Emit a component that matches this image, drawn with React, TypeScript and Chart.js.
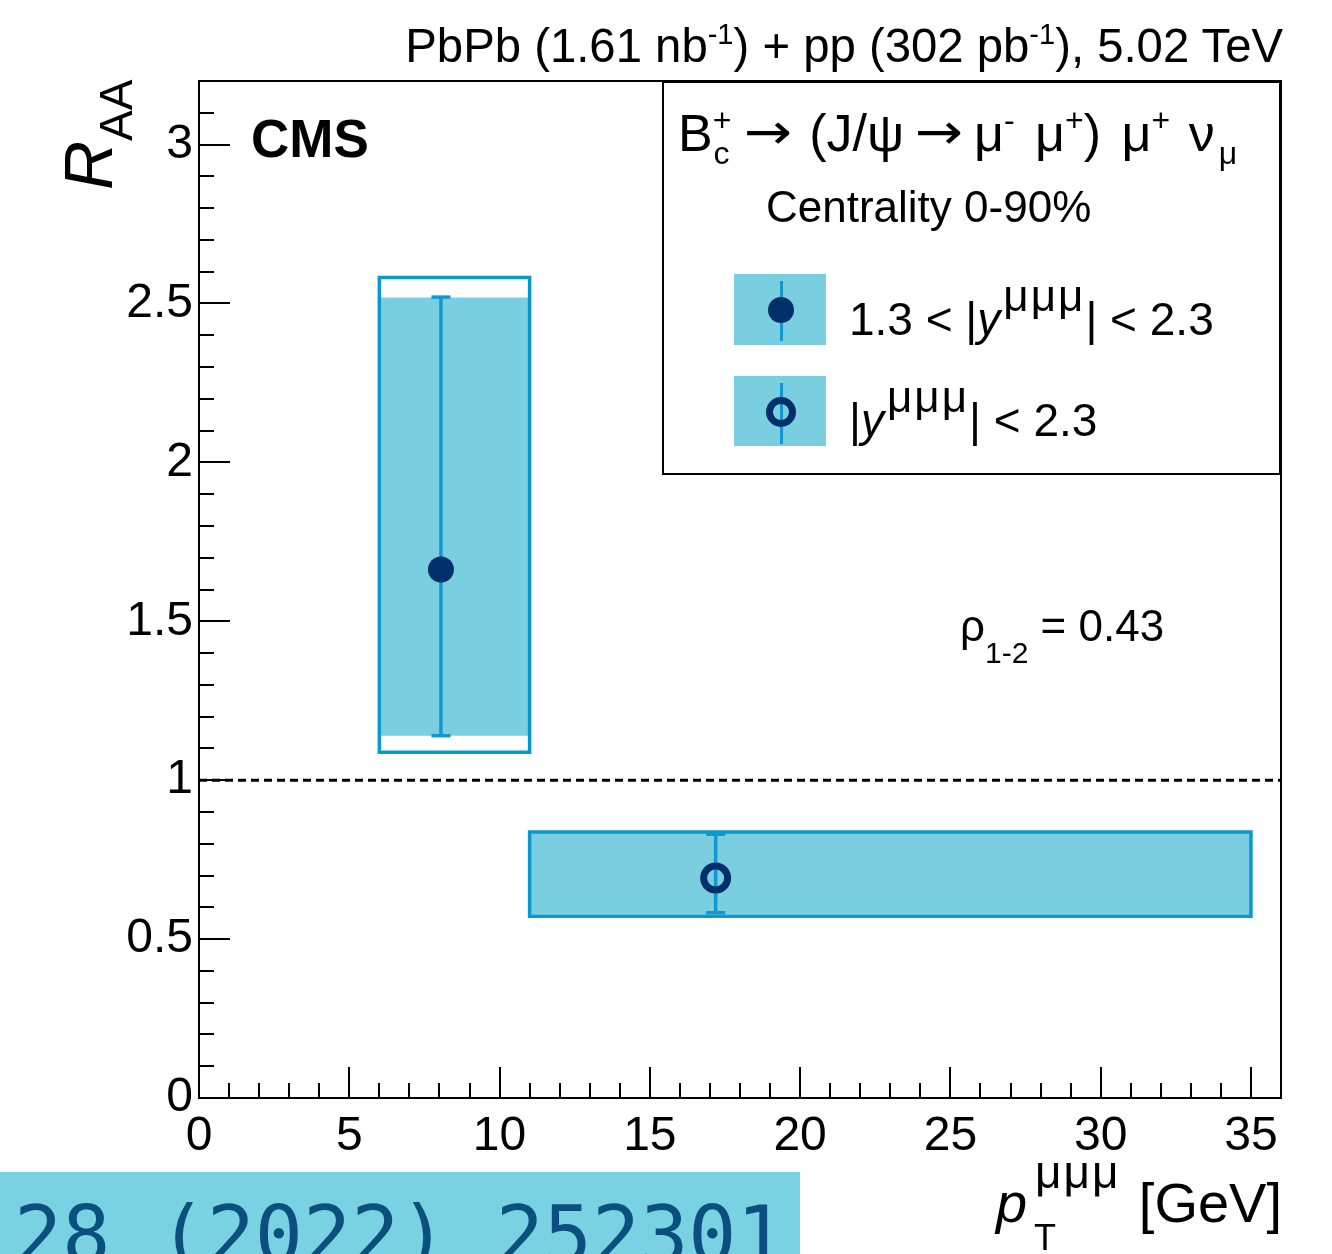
import React, { useEffect, useRef } from 'react';
import { Chart, registerables } from 'chart.js';

Chart.register(...registerables);

const W = 1332;
const H = 1254;

// ---- data ----
const binLow = [6, 11];
const binHigh = [11, 35];
const ptCenter = [8.05, 17.19];
const raa = [1.663, 0.692];
const statLow = [1.14, 0.583];
const statHigh = [2.52, 0.83];
const sysLow = [1.14, 0.577];
const sysHigh = [2.517, 0.833];
const totLow = [1.088, 0.572];
const totHigh = [2.582, 0.837];
const refValue = 1;

const xTicks = [0, 5, 10, 15, 20, 25, 30, 35];
const yTicks = [0, 0.5, 1, 1.5, 2, 2.5, 3];
const xRange = [0, 36];
const yRange = [0, 3.2];
const xMinorStep = 1;
const yMinorStep = 0.1;

const FILL = '#79cfdf';
const EDGE = '#0b98cc';
const ERR = '#1496cf';
const MARK = '#00306b';
const FONT = '"Liberation Sans", Arial, Helvetica, sans-serif';

function Txt(props: any) {
  const { x, y, size, anchor = 'left', children, style } = props;
  const top = y - 0.8465 * size;
  const pos: any = anchor === 'right' ? { right: W - x } : { left: x };
  return (
    <div
      style={{
        position: 'absolute',
        top,
        ...pos,
        fontSize: size,
        lineHeight: 1,
        whiteSpace: 'nowrap',
        color: '#000',
        fontFamily: FONT,
        ...style,
      }}
    >
      {children}
    </div>
  );
}

function Sup(props: any) {
  const { s, r, ml = 0, mr = 0, children, style } = props;
  return (
    <span style={{ position: 'relative', top: -r, fontSize: s, marginLeft: ml, marginRight: mr, ...style }}>
      {children}
    </span>
  );
}

function Sub(props: any) {
  const { s, r, ml = 0, mr = 0, children, style } = props;
  return (
    <span style={{ position: 'relative', top: r, fontSize: s, marginLeft: ml, marginRight: mr, ...style }}>
      {children}
    </span>
  );
}

function Arrow(props: any) {
  const { ml = 0, mr = 0 } = props;
  return (
    <span
      style={{
        display: 'inline-block',
        fontFamily: '"DejaVu Sans", sans-serif',
        fontSize: 50,
        marginLeft: ml,
        marginRight: mr,
        transform: 'scaleX(1.15)',
        position: 'relative',
        top: -2,
      }}
    >
      →
    </span>
  );
}

const frameTicks = {
  id: 'frameTicks',
  afterDraw(chart: any) {
    const { ctx, chartArea: a, scales } = chart;
    const x = scales.x;
    const y = scales.y;
    ctx.save();
    ctx.strokeStyle = '#000';
    ctx.lineWidth = 2;
    ctx.beginPath();
    const xMajor = xTicks[1] - xTicks[0];
    const nx = Math.round((xRange[1] - xRange[0]) / xMinorStep);
    for (let i = 0; i <= nx; i++) {
      const v = xRange[0] + i * xMinorStep;
      const isMajor = Math.abs(v / xMajor - Math.round(v / xMajor)) < 1e-6;
      const px = Math.round(x.getPixelForValue(v));
      ctx.moveTo(px, a.bottom);
      ctx.lineTo(px, a.bottom - (isMajor ? 31 : 15));
    }
    const yMajor = yTicks[1] - yTicks[0];
    const ny = Math.round((yRange[1] - yRange[0]) / yMinorStep);
    for (let i = 0; i <= ny; i++) {
      const v = yRange[0] + i * yMinorStep;
      const isMajor = Math.abs(v / yMajor - Math.round(v / yMajor)) < 1e-6;
      const py = Math.round(y.getPixelForValue(v));
      ctx.moveTo(a.left, py);
      ctx.lineTo(a.left + (isMajor ? 31 : 15), py);
    }
    ctx.stroke();
    ctx.strokeRect(a.left, a.top, a.right - a.left, a.bottom - a.top);
    ctx.restore();
  },
};

function ChartCanvas() {
  const ref = useRef<HTMLCanvasElement | null>(null);
  useEffect(() => {
    if (!ref.current) return;
    const datasets: any[] = [];
    binLow.forEach((lo, i) => {
      datasets.push({
        data: [
          { x: lo, y: sysHigh[i] },
          { x: binHigh[i], y: sysHigh[i] },
        ],
        fill: { value: sysLow[i] },
        backgroundColor: FILL,
        borderColor: FILL,
        borderWidth: 1,
        pointRadius: 0,
        order: 6,
      });
      datasets.push({
        data: [
          { x: lo, y: totLow[i] },
          { x: lo, y: totHigh[i] },
          { x: binHigh[i], y: totHigh[i] },
          { x: binHigh[i], y: totLow[i] },
          { x: lo, y: totLow[i] },
        ],
        fill: false,
        borderColor: EDGE,
        borderWidth: 3.5,
        borderCapStyle: 'square',
        borderJoinStyle: 'miter',
        pointRadius: 0,
        order: 5,
      });
      datasets.push({
        data: [
          { x: ptCenter[i], y: statLow[i] },
          { x: ptCenter[i], y: statHigh[i] },
        ],
        fill: false,
        borderColor: ERR,
        borderWidth: 3.5,
        pointRadius: 0,
        order: 3,
      });
    });
    datasets.push({
      data: [
        { x: xRange[0], y: refValue },
        { x: xRange[1], y: refValue },
      ],
      fill: false,
      borderColor: '#000',
      borderWidth: 3,
      borderDash: [8, 5],
      pointRadius: 0,
      order: 4,
    });
    datasets.push({
      data: ptCenter.flatMap((x, i) => [
        { x, y: statLow[i] },
        { x, y: statHigh[i] },
      ]),
      showLine: false,
      pointStyle: 'line',
      pointRadius: 9.5,
      pointBorderWidth: 3.5,
      pointBorderColor: ERR,
      order: 2,
    });
    datasets.push({
      data: [{ x: ptCenter[0], y: raa[0] }],
      showLine: false,
      pointStyle: 'circle',
      pointRadius: 13,
      pointBackgroundColor: MARK,
      pointBorderWidth: 0,
      order: 1,
    });
    datasets.push({
      data: [{ x: ptCenter[1], y: raa[1] }],
      showLine: false,
      pointStyle: 'circle',
      pointRadius: 12,
      pointBorderWidth: 7,
      pointBorderColor: MARK,
      pointBackgroundColor: 'rgba(0,0,0,0)',
      order: 1,
    });

    const tickFont = { family: FONT, size: 48 };
    const chart = new Chart(ref.current, {
      type: 'line',
      data: { datasets },
      options: {
        responsive: false,
        animation: false,
        events: [],
        layout: { padding: { left: 0, right: W - 1281, top: 81, bottom: 0 } },
        plugins: {
          legend: { display: false },
          tooltip: { enabled: false },
          title: { display: false },
        },
        scales: {
          x: {
            type: 'linear',
            min: xRange[0],
            max: xRange[1],
            grid: { display: false },
            border: { display: false },
            afterBuildTicks: (s: any) => {
              s.ticks = xTicks.map((v) => ({ value: v }));
            },
            afterFit: (s: any) => {
              s.height = H - 1098;
            },
            ticks: {
              font: tickFont,
              color: '#000',
              padding: 2,
              maxRotation: 0,
              autoSkip: false,
              callback: (v: any) => String(v),
            },
          },
          y: {
            type: 'linear',
            min: yRange[0],
            max: yRange[1],
            grid: { display: false },
            border: { display: false },
            afterBuildTicks: (s: any) => {
              s.ticks = yTicks.map((v) => ({ value: v }));
            },
            afterFit: (s: any) => {
              s.width = 199;
            },
            ticks: {
              font: tickFont,
              color: '#000',
              padding: -2,
              autoSkip: false,
              callback: (v: any) => String(v),
            },
          },
        },
      },
      plugins: [frameTicks],
    } as any);
    return () => chart.destroy();
  }, []);
  return (
    <canvas
      ref={ref}
      width={W}
      height={H}
      style={{ position: 'absolute', left: 0, top: 0, width: W, height: H }}
    />
  );
}

export default function App() {
  return (
    <div
      style={{
        position: 'absolute',
        left: 0,
        top: 0,
        width: W,
        height: H,
        overflow: 'hidden',
        background: '#fff',
        fontFamily: FONT,
      }}
    >
      <ChartCanvas />

      {/* top luminosity label */}
      <Txt x={1283} y={62} size={47.3} anchor="right">
        PbPb (1.61 nb<Sup s={29} r={18}>-1</Sup>) + pp (302 pb<Sup s={29} r={18}>-1</Sup>), 5.02 TeV
      </Txt>

      {/* CMS */}
      <Txt x={251} y={157} size={53} style={{ fontWeight: 'bold' }}>
        CMS
      </Txt>

      {/* y-axis title */}
      <div
        style={{
          position: 'absolute',
          left: 54,
          top: 190,
          transformOrigin: 'left top',
          transform: 'rotate(-90deg)',
          fontSize: 68,
          lineHeight: 1,
          whiteSpace: 'nowrap',
          fontFamily: FONT,
          color: '#000',
        }}
      >
        <i>R</i>
        <Sub s={46} r={20}>AA</Sub>
      </div>

      {/* x-axis title */}
      <Txt x={996} y={1222} size={56} style={{ fontStyle: 'italic' }}>
        p
      </Txt>
      <Txt x={1034} y={1250} size={36}>
        T
      </Txt>
      <Txt x={1035} y={1188} size={46} style={{ letterSpacing: 2 }}>
        μμμ
      </Txt>
      <Txt x={1282} y={1222} size={56} anchor="right">
        [GeV]
      </Txt>

      {/* legend box */}
      <div
        style={{
          position: 'absolute',
          left: 662,
          top: 81,
          width: 1281 - 662,
          height: 475 - 81,
          border: '2px solid #000',
          boxSizing: 'border-box',
        }}
      />
      <Txt x={678} y={151} size={52}>
        B<Sup s={32} r={20}>+</Sup>
        <Sub s={32} r={13} ml={-18}>
          c
        </Sub>
        <Arrow ml={18} mr={20} />
        (J/ψ
        <Arrow ml={14} mr={14} />
        μ<Sup s={32} r={20} mr={6}>-</Sup>
        {' '}μ<Sup s={32} r={20}>+</Sup>){' '}
        <span style={{ marginLeft: 6 }}>μ</span>
        <Sup s={32} r={20} mr={4}>+</Sup> ν
        <Sub s={32} r={13} ml={4}>μ</Sub>
      </Txt>
      <Txt x={766} y={222} size={44}>
        Centrality 0-90%
      </Txt>

      {/* legend entry 1 */}
      <div style={{ position: 'absolute', left: 734, top: 274, width: 92, height: 71, background: FILL }} />
      <div style={{ position: 'absolute', left: 779.5, top: 281, width: 3, height: 60, background: ERR }} />
      <div
        style={{
          position: 'absolute',
          left: 781 - 13,
          top: 310 - 13,
          width: 26,
          height: 26,
          borderRadius: '50%',
          background: MARK,
        }}
      />
      <Txt x={849} y={335} size={46}>
        1.3 &lt; |<i>y</i>
        <Sup s={44} r={24} ml={3} style={{ letterSpacing: 2 }}>
          μμμ
        </Sup>
        | &lt; 2.3
      </Txt>

      {/* legend entry 2 */}
      <div style={{ position: 'absolute', left: 734, top: 376, width: 92, height: 70, background: FILL }} />
      <div style={{ position: 'absolute', left: 779.5, top: 383, width: 3, height: 61, background: ERR }} />
      <div
        style={{
          position: 'absolute',
          left: 781 - 15,
          top: 412 - 15,
          width: 30,
          height: 30,
          borderRadius: '50%',
          border: `7px solid ${MARK}`,
          boxSizing: 'border-box',
        }}
      />
      <Txt x={849} y={436} size={46}>
        |<i>y</i>
        <Sup s={44} r={24} ml={3} style={{ letterSpacing: 2 }}>
          μμμ
        </Sup>
        | &lt; 2.3
      </Txt>

      {/* correlation */}
      <Txt x={960} y={641} size={44}>
        ρ<Sub s={30} r={22}>1-2</Sub> = 0.43
      </Txt>

      {/* bottom banner */}
      <div
        style={{
          position: 'absolute',
          left: 0,
          top: 1172,
          width: 800,
          height: H - 1172,
          background: '#79d2e2',
          overflow: 'hidden',
        }}
      >
        <div
          style={{
            position: 'absolute',
            left: 14,
            top: 24,
            fontFamily: '"DejaVu Sans Mono", monospace',
            fontSize: 80,
            lineHeight: 1,
            whiteSpace: 'pre',
            color: '#0a4f7e',
          }}
        >
          28 (2022) 252301
        </div>
      </div>
    </div>
  );
}
